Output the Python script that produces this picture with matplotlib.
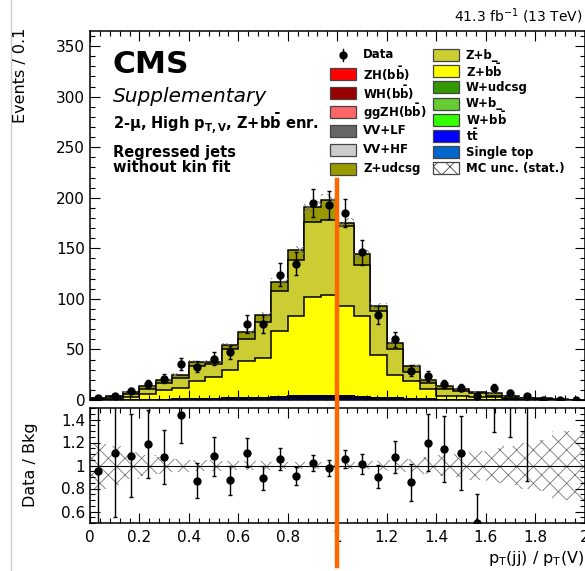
import numpy as np
import matplotlib
matplotlib.use('Agg')
import matplotlib.pyplot as plt
from matplotlib.patches import Rectangle
from matplotlib.lines import Line2D
from matplotlib.ticker import MultipleLocator, FormatStrFormatter

plt.rcParams['font.family'] = ['DejaVu Sans']
plt.rcParams['mathtext.fontset'] = 'dejavusans'
plt.rcParams['mathtext.default'] = 'regular'
plt.rcParams['hatch.linewidth'] = 0.6

# binning: 30 bins between 0 and 2
edges = np.linspace(0, 2, 31)
centers = 0.5 * (edges[1:] + edges[:-1])

# data counts
data = [2, 4, 9, 16, 21, 36, 33, 41, 47, 75, 75, 124, 135, 195, 193,
        185, 146, 84, 60, 29, 24, 16, 12, 4, 12, 7, 4, 0, 0, 0]

# backgrounds / signals, read from the stack
z_udcsg = [0.6, 0.8, 2.7, 2.5, 2.6, 3, 4, 2, 4, 7.5, 7, 9, 10, 15, 20,
           3, 10, 5, 6, 6, 3, 3.5, 1.8, 1.4, 2.3, 1.2, 0.7, 1.0, 0.3, 0.2]
z_b = [1.0, 1.8, 2.6, 5.4, 7.4, 10.4, 15, 13, 20, 21, 35, 40, 55, 74, 74,
       79, 51, 43, 25, 9, 6.4, 6.5, 5, 3.6, 1.0, 1.3, 1.3, 0.8, 0.2, 0.1]
z_bb = [0.5, 1, 3, 5.5, 9.3, 11.1, 18.2, 21.9, 28.4, 37, 39.6, 65, 79.4, 97.8, 99.6,
        89.1, 79.9, 42.7, 23.4, 18, 10, 3.7, 3.9, 2.9, 3.3, 1, 0.3, 0.5, 0.2, 0.1]
tt = [0, 0, 0, 0, 0.1, 0.2, 0.3, 0.5, 0.8, 1.0, 1.2, 1.5, 1.8, 2.0, 2.2,
      2.0, 1.6, 1.2, 0.8, 0.5, 0.3, 0.2, 0.1, 0.1, 0, 0, 0, 0, 0, 0]
single_top = [0, 0, 0, 0, 0, 0.1, 0.1, 0.1, 0.2, 0.2, 0.3, 0.3, 0.4, 0.5, 0.5,
              0.4, 0.3, 0.2, 0.2, 0.1, 0.1, 0, 0, 0, 0, 0, 0, 0, 0, 0]
vv_lf = [0, 0, 0, 0.1, 0.1, 0.1, 0.2, 0.2, 0.3, 0.3, 0.4, 0.5, 0.6, 0.7, 0.7,
         0.6, 0.5, 0.4, 0.3, 0.2, 0.1, 0.1, 0, 0, 0, 0, 0, 0, 0, 0]
vv_hf = [0, 0, 0, 0, 0.1, 0.1, 0.1, 0.2, 0.2, 0.3, 0.3, 0.4, 0.5, 0.6, 0.6,
         0.5, 0.4, 0.3, 0.2, 0.1, 0.1, 0, 0, 0, 0, 0, 0, 0, 0, 0]
zh = [0, 0, 0, 0, 0, 0, 0.1, 0.1, 0.1, 0.2, 0.2, 0.3, 0.3, 0.4, 0.4,
      0.4, 0.3, 0.2, 0.1, 0.1, 0, 0, 0, 0, 0, 0, 0, 0, 0, 0]
wh = [0] * 30
ggzh = [0] * 30
w_udcsg = [0] * 30
w_b = [0] * 30
w_bb = [0] * 30

# relative MC stat. uncertainty
mc_unc = [0.2, 0.17, 0.12, 0.09, 0.07, 0.06, 0.05, 0.05, 0.04, 0.04, 0.035, 0.03, 0.03, 0.03, 0.03,
          0.03, 0.03, 0.035, 0.05, 0.06, 0.07, 0.09, 0.1, 0.13, 0.15, 0.17, 0.2, 0.22, 0.3, 0.3]

# stack bottom -> top
stack = [
    ('tt', tt, '#0000ff'),
    ('Single top', single_top, '#0066cc'),
    ('VV+HF', vv_hf, '#cccccc'),
    ('VV+LF', vv_lf, '#666666'),
    ('ggZH', ggzh, '#ff6666'),
    ('WH', wh, '#990000'),
    ('ZH', zh, '#ff0000'),
    ('W+bb', w_bb, '#33ff00'),
    ('W+b', w_b, '#66cc33'),
    ('W+udcsg', w_udcsg, '#339900'),
    ('Z+bb', z_bb, '#ffff00'),
    ('Z+b', z_b, '#cccc33'),
    ('Z+udcsg', z_udcsg, '#999900'),
]

W, H = 585, 571
fig = plt.figure(figsize=(W / 100, H / 100), dpi=100)
ax = fig.add_axes([90 / W, 1 - 400 / H, 494.5 / W, 369 / H])
axr = fig.add_axes([90 / W, 1 - 523 / H, 494.5 / W, 115 / H])

# draw cumulative histos from the top, each filled from zero (like THStack)
cum = np.cumsum(np.array([s[1] for s in stack], dtype=float), axis=0)
for i in range(len(stack) - 1, -1, -1):
    ax.stairs(cum[i], edges, baseline=0, fill=True, facecolor=stack[i][2],
              edgecolor='black', linewidth=1.1)

total = cum[-1]
unc = np.array(mc_unc)
ax.stairs(total * (1 + unc), edges, baseline=total * (1 - unc), fill=True,
          facecolor='none', edgecolor='#777777', linewidth=0, hatch='xx')

d = np.array(data, dtype=float)
ax.errorbar(centers, d, yerr=np.sqrt(d), fmt='o', color='black', ms=5,
            elinewidth=1, capsize=1.5, zorder=5)

ax.set_xlim(0, 2)
ax.set_ylim(0, 365)
ax.yaxis.set_major_locator(MultipleLocator(50))
ax.yaxis.set_minor_locator(MultipleLocator(10))
for a in (ax, axr):
    a.xaxis.set_major_locator(MultipleLocator(0.2))
    a.xaxis.set_minor_locator(MultipleLocator(0.04))
    a.tick_params(which='both', direction='in', top=True, right=True, labelsize=11)
    a.tick_params(which='major', length=7, width=0.8)
    a.tick_params(which='minor', length=3.5, width=0.8)
    for sp in a.spines.values():
        sp.set_linewidth(1.1)
ax.tick_params(labelbottom=False)

# ratio panel
ratio = d / total
rerr = np.sqrt(d) / total
axr.stairs(1 + unc, edges, baseline=1 - unc, fill=True, facecolor='none',
           edgecolor='#777777', linewidth=0, hatch='xx')
axr.axhline(1, color='black', lw=0.8)
axr.errorbar(centers, ratio, yerr=rerr, fmt='o', color='black', ms=5,
             elinewidth=1, capsize=1.5, zorder=5)
axr.set_xlim(0, 2)
axr.set_ylim(0.5, 1.5)
axr.yaxis.set_major_locator(MultipleLocator(0.2))
axr.yaxis.set_minor_locator(MultipleLocator(0.05))
axr.yaxis.set_major_formatter(FormatStrFormatter('%g'))
axr.xaxis.set_major_formatter(FormatStrFormatter('%g'))
axr.set_yticks([0.6, 0.8, 1.0, 1.2, 1.4])
axr.tick_params(axis='x', pad=5)

# orange line at 1
axr.plot([1, 1], [0.13, 3.48], color='#ff6600', lw=3.2, clip_on=False, zorder=10)

# texts
fig.text(113 / W, 1 - 73 / H, 'CMS', fontsize=22.5, fontweight='bold', va='baseline')
fig.text(113 / W, 1 - 102 / H, 'Supplementary', fontsize=14.5, style='italic', va='baseline')
fig.text(113 / W, 1 - 130 / H,
         r'2-$\mu$, High p$_{\mathbf{T,V}}$, Z+b$\mathbf{\bar{b}}$ enr.',
         fontsize=10.5, fontweight='bold', va='baseline')
fig.text(113 / W, 1 - 157 / H, 'Regressed jets', fontsize=10.5, fontweight='bold', va='baseline')
fig.text(113 / W, 1 - 172 / H, 'without kin fit', fontsize=10.5, fontweight='bold', va='baseline')
fig.text(582 / W, 1 - 21 / H, r'41.3 fb$^{-1}$ (13 TeV)', fontsize=10, ha='right', va='baseline')
fig.text(584 / W, 1 - 563 / H, r'p$_{T}$(jj) / p$_{T}$(V)', fontsize=11.5, ha='right', va='baseline')
fig.text(20 / W, 1 - 28 / H, 'Events / 0.1', fontsize=11.5, rotation=90, ha='center', va='top')
fig.text(30 / W, 1 - 465 / H, 'Data / Bkg', fontsize=11.5, rotation=90, ha='center', va='center')

# legend, drawn by hand in pixel coordinates
left_entries = [('ZH(b$\\mathbf{\\bar{b}}$)', '#ff0000'),
                ('WH(b$\\mathbf{\\bar{b}}$)', '#990000'),
                ('ggZH(b$\\mathbf{\\bar{b}}$)', '#ff6666'),
                ('VV+LF', '#666666'),
                ('VV+HF', '#cccccc'),
                ('Z+udcsg', '#999900')]
right_entries = [('Z+b_', '#cccc33'),
                 ('Z+b$\\mathbf{\\bar{b}}$', '#ffff00'),
                 ('W+udcsg', '#339900'),
                 ('W+b_', '#66cc33'),
                 ('W+b$\\mathbf{\\bar{b}}$', '#33ff00'),
                 ('$\\mathbf{t\\bar{t}}$', '#0000ff'),
                 ('Single top', '#0066cc')]


def leg_box(x0, yc, color, hatch=None):
    r = Rectangle((x0 / W, 1 - (yc + 6) / H), 26 / W, 12 / H, transform=fig.transFigure,
                  facecolor=color, edgecolor='#444444', lw=0.9, hatch=hatch)
    fig.add_artist(r)


def leg_text(x0, yc, s):
    fig.text(x0 / W, 1 - yc / H, s, fontsize=8.5, fontweight='bold', va='center')


# data entry
fig.add_artist(Line2D([343 / W], [1 - 55 / H], marker='o', ms=5, color='black',
                      transform=fig.transFigure))
fig.add_artist(Line2D([343 / W, 343 / W], [1 - 49 / H, 1 - 61 / H], color='black', lw=1,
                      transform=fig.transFigure))
leg_text(363, 55, 'Data')
for k, (lab, col) in enumerate(left_entries):
    yc = 74 + 18.9 * k
    leg_box(330, yc, col)
    leg_text(363, yc, lab)
for k, (lab, col) in enumerate(right_entries):
    yc = 55 + 16.2 * k
    leg_box(433, yc, col)
    leg_text(466, yc, lab)
leg_box(433, 55 + 16.2 * 7, 'white', hatch='xx')
leg_text(466, 55 + 16.2 * 7, 'MC unc. (stat.)')

# thin grey line at the left of the picture
fig.add_artist(Line2D([10.7 / W, 10.7 / W], [0, 1], color='#cccccc', lw=1,
                      transform=fig.transFigure))

fig.savefig('out.png', dpi=100)
